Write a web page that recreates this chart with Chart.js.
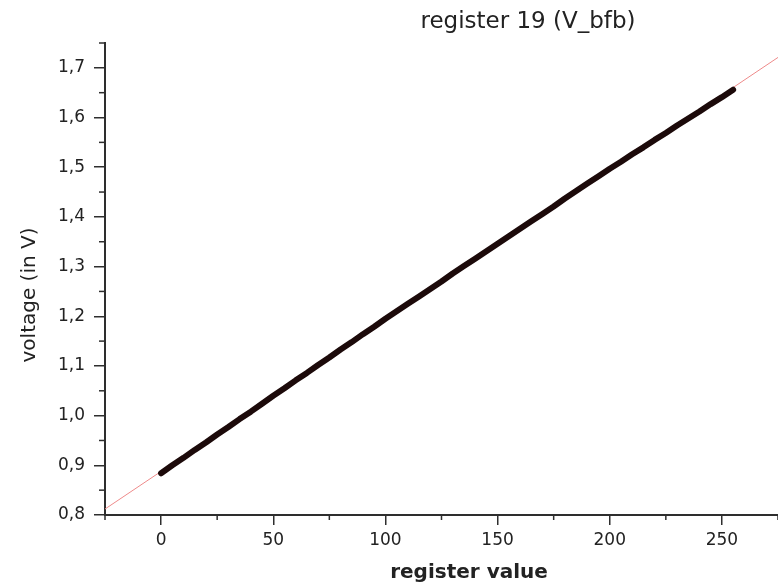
<!DOCTYPE html>
<html>
<head>
<meta charset="utf-8">
<title>register 19 (V_bfb)</title>
<script src="https://cdn.jsdelivr.net/npm/chart.js@4/dist/chart.umd.min.js"></script>
<style>
  html, body { margin: 0; padding: 0; background: #fff; }
  #wrap { width: 778px; height: 586px; }
</style>
</head>
<body>
<div id="wrap"><canvas id="chart"></canvas></div>
<script>
var registers = [0, 5, 10, 15, 20, 25, 30, 35, 40, 45, 50, 55, 60, 65, 70, 75, 80, 85, 90, 95,
  100, 105, 110, 115, 120, 125, 130, 135, 140, 145, 150, 155, 160, 165, 170, 175, 180, 185, 190, 195,
  200, 205, 210, 215, 220, 225, 230, 235, 240, 245, 250, 255];
var voltages = [0.884, 0.900, 0.915, 0.931, 0.946, 0.962, 0.977, 0.993, 1.008, 1.024,
  1.040, 1.055, 1.071, 1.086, 1.102, 1.117, 1.133, 1.148, 1.164, 1.179,
  1.195, 1.210, 1.225, 1.240, 1.255, 1.270, 1.286, 1.301, 1.316, 1.331,
  1.346, 1.361, 1.376, 1.391, 1.406, 1.421, 1.437, 1.452, 1.467, 1.482,
  1.497, 1.511, 1.526, 1.540, 1.555, 1.569, 1.584, 1.598, 1.612, 1.627,
  1.641, 1.656];

// linear fit (red line)
var fitX = [-25, 275];
var fitY = [0.812, 1.721];

// ticks
var xTicks = [0, 50, 100, 150, 200, 250];
var xMinor = [-25, 25, 75, 125, 175, 225, 275];
var yTicks = [0.8, 0.9, 1.0, 1.1, 1.2, 1.3, 1.4, 1.5, 1.6, 1.7];
var yMinor = [0.85, 0.95, 1.05, 1.15, 1.25, 1.35, 1.45, 1.55, 1.65, 1.75];

var chartTitle = "register 19 (V_bfb)";
var xTitle = "register value";
var yTitle = "voltage (in V)";

var axisColor = "#2e2e2e";
var textColor = "#222";
var fontName = '"DejaVu Sans", Verdana, sans-serif';

var dataPoints = [];
for (var i = 0; i < registers.length; i++) {
  dataPoints.push({ x: registers[i], y: voltages[i] });
}
var fitPoints = [];
for (var j = 0; j < fitX.length; j++) {
  fitPoints.push({ x: fitX[j], y: fitY[j] });
}

// minor ticks + titles
var extrasPlugin = {
  id: "extras",
  afterDraw: function (chart) {
    var ctx = chart.ctx;
    var area = chart.chartArea;
    var xs = chart.scales.x;
    var ys = chart.scales.y;
    ctx.save();
    ctx.strokeStyle = axisColor;
    ctx.lineWidth = 1.5;
    xMinor.forEach(function (v) {
      var px = xs.getPixelForValue(v);
      ctx.beginPath();
      ctx.moveTo(px, area.bottom);
      ctx.lineTo(px, area.bottom + 5);
      ctx.stroke();
    });
    yMinor.forEach(function (v) {
      var py = ys.getPixelForValue(v);
      ctx.beginPath();
      ctx.moveTo(area.left, py);
      ctx.lineTo(area.left - 6, py);
      ctx.stroke();
    });

    ctx.fillStyle = textColor;
    ctx.textAlign = "center";
    ctx.textBaseline = "middle";

    ctx.font = "23px " + fontName;
    ctx.fillText(chartTitle, area.left + 423, 22);

    ctx.font = "bold 20px " + fontName;
    ctx.fillText(xTitle, area.left + 364, 573);

    ctx.translate(30, 295);
    ctx.rotate(-Math.PI / 2);
    ctx.font = "20px " + fontName;
    ctx.fillText(yTitle, 0, 0);
    ctx.restore();
  }
};

var ctx = document.getElementById("chart").getContext("2d");
var chart = new Chart(ctx, {
  type: "line",
  data: {
    datasets: [
      {
        label: "data",
        data: dataPoints,
        borderColor: "#1c0a0a",
        backgroundColor: "#1c0a0a",
        borderWidth: 6,
        borderCapStyle: "round",
        borderJoinStyle: "round",
        pointRadius: 0,
        fill: false,
        tension: 0,
        order: 1
      },
      {
        label: "fit",
        data: fitPoints,
        borderColor: "#ee8a8a",
        borderWidth: 1,
        pointRadius: 0,
        fill: false,
        tension: 0,
        order: 2
      }
    ]
  },
  options: {
    responsive: true,
    maintainAspectRatio: false,
    animation: false,
    layout: { padding: { top: 43, left: 0, right: 0, bottom: 0 } },
    plugins: {
      legend: { display: false },
      tooltip: { enabled: false },
      title: { display: false }
    },
    scales: {
      x: {
        type: "linear",
        min: -25,
        max: 275,
        afterBuildTicks: function (s) {
          s.ticks = xTicks.map(function (v) { return { value: v }; });
        },
        afterFit: function (s) { s.height = 71; },
        border: { display: true, color: axisColor, width: 2 },
        grid: { drawOnChartArea: false, drawTicks: true, tickLength: 10, color: axisColor, lineWidth: 1.5 },
        ticks: {
          color: textColor,
          padding: 5,
          maxRotation: 0,
          font: { family: fontName, size: 17 },
          callback: function (v) { return String(v); }
        }
      },
      y: {
        type: "linear",
        min: 0.8,
        max: 1.75,
        afterBuildTicks: function (s) {
          s.ticks = yTicks.map(function (v) { return { value: v }; });
        },
        afterFit: function (s) { s.width = 105; },
        border: { display: true, color: axisColor, width: 2 },
        grid: { drawOnChartArea: false, drawTicks: true, tickLength: 11, color: axisColor, lineWidth: 1.5 },
        ticks: {
          color: textColor,
          padding: 9,
          font: { family: fontName, size: 17 },
          callback: function (v) { return v.toFixed(1).replace(".", ","); }
        }
      }
    }
  },
  plugins: [extrasPlugin]
});
</script>
</body>
</html>
